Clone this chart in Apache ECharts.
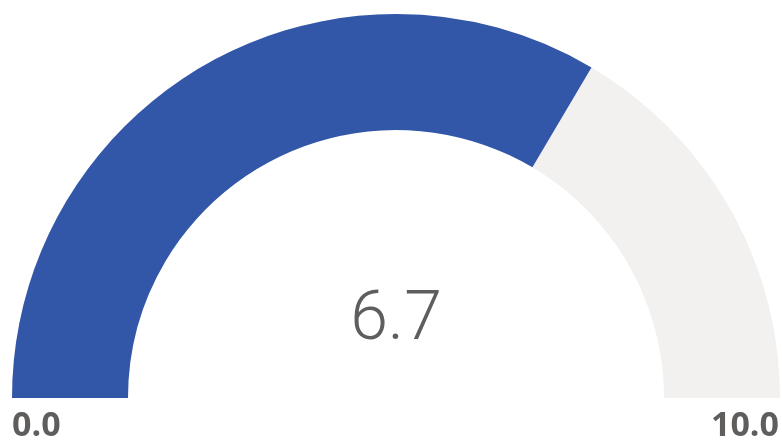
<!DOCTYPE html>
<html>
<head>
<meta charset="utf-8">
<style>
  html, body { margin: 0; padding: 0; background: #fff; }
  #chart { width: 782px; height: 441px; }
</style>
<script src="https://cdn.jsdelivr.net/npm/echarts@6/dist/echarts.min.js"></script>
</head>
<body>
<div id="chart"></div>
<script>
var gaugeValue = [6.7];
var gaugeRange = [0, 10];
var rangeLabels = ['0.0', '10.0'];

var myChart = echarts.init(document.getElementById('chart'));

var option = {
    animation: false,
    series: [
        {
            type: 'gauge',
            center: [396, 398],
            radius: 384,
            startAngle: 180,
            endAngle: 0,
            min: gaugeRange[0],
            max: gaugeRange[1],
            splitNumber: 1,
            pointer: { show: false },
            axisTick: { show: false },
            splitLine: { show: false },
            axisLabel: { show: false },
            axisLine: {
                lineStyle: {
                    width: 116,
                    color: [[1, '#f2f1f0']]
                }
            },
            progress: {
                show: true,
                width: 116,
                itemStyle: { color: '#3257a8' }
            },
            title: { show: false },
            detail: {
                offsetCenter: [0, -76],
                fontSize: 68,
                fontWeight: 300,
                fontFamily: 'Liberation Sans Narrow, Roboto, sans-serif',
                color: '#605e5c',
                formatter: function (v) { return v.toFixed(1); }
            },
            data: [{ value: gaugeValue[0] }]
        }
    ],
    graphic: [
        {
            type: 'text',
            left: 12,
            top: 409,
            style: {
                text: rangeLabels[0],
                font: 'bold 34px "Open Sans", sans-serif',
                fill: '#605e5c'
            }
        },
        {
            type: 'text',
            right: 3,
            top: 409,
            style: {
                text: rangeLabels[1],
                font: 'bold 34px "Open Sans", sans-serif',
                fill: '#605e5c'
            }
        }
    ]
};

myChart.setOption(option);
</script>
</body>
</html>
